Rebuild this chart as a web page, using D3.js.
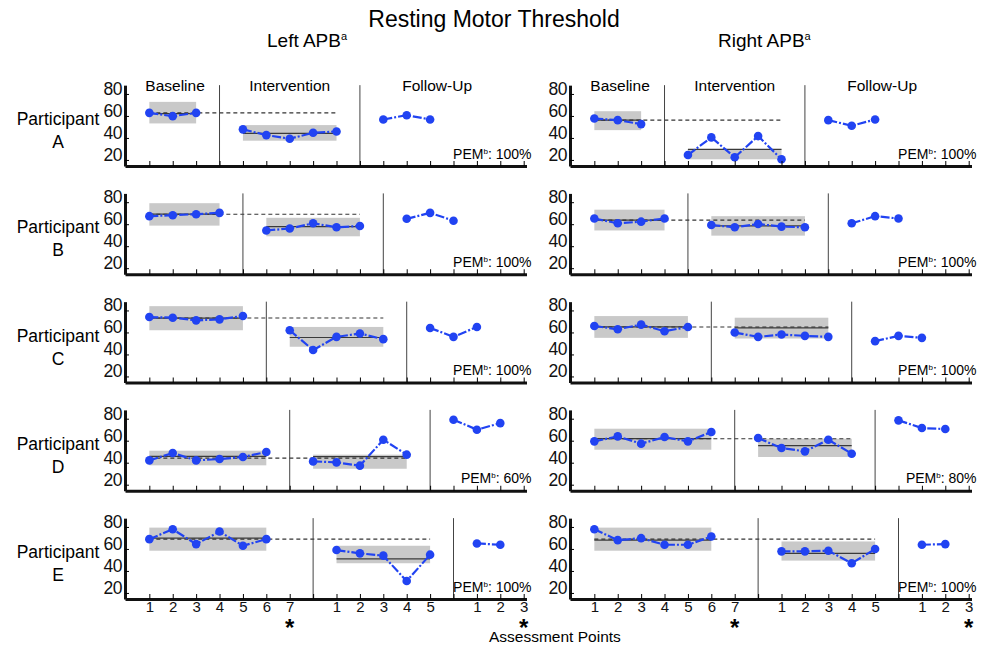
<!DOCTYPE html>
<html>
<head>
<meta charset="utf-8">
<script src="https://cdnjs.cloudflare.com/ajax/libs/d3/7.8.5/d3.min.js"></script>
<style>
  body { margin: 0; background: #fff; }
  svg { display: block; font-family: "Liberation Sans", Arial, sans-serif; }
</style>
</head>
<body>
<script>
const participants = ["A", "B", "C", "D", "E"];
const phaseNames = ["Baseline", "Intervention", "Follow-Up"];
const sides = ["Left APB", "Right APB"];
const yTicks = [20, 40, 60, 80];
// tick labels under the last row, one per assessment slot
const xTickLabels = ["1", "2", "3", "4", "5", "6", "7", "", "1", "2", "3", "4", "5", "", "1", "2", "3"];
const starSlots = [6, 16];
// slot of the first phase change line for each participant
const phaseStart = [3, 4, 5, 6, 7];

// Left APB
const leftBaseline = [
  [62.8, 59.8, 62.8],
  [67.3, 68.2, 69.1, 70.3],
  [74, 73.4, 71, 71.9, 74.9],
  [42.1, 48.8, 42.1, 43.3, 45.2, 49.7],
  [68.9, 77.9, 64.4, 75.8, 62.9, 68.9]
];
const leftIntervention = [
  [47.8, 42.6, 39.3, 44.7, 45.9],
  [54.3, 56.1, 60.8, 57.2, 58.4],
  [62, 44, 56, 59, 53.9],
  [41.2, 40.3, 37.3, 60.9, 47.3],
  [59, 56, 53.9, 30.8, 54.8]
];
const leftFollowUp = [
  [56.8, 60.7, 56.8],
  [64.9, 70.3, 63.2],
  [64.1, 56, 65],
  [79.1, 70, 76],
  [65, 63.8]
];
const leftBaseBand = [[53.2, 72.8], [58.7, 79.1], [62, 83.9], [37.6, 50.9], [58.4, 79.4]];
const leftBaseMean = [62.2, 69.1, 73.1, 45.8, 69.8];
const leftTrend = [62.8, 69.1, 73.1, 44.2, 68.9];
const leftIntBand = [[37.5, 51.7], [49, 65.8], [47, 65], [34.5, 47.3], [47, 62.9]];
const leftIntMean = [44.1, 57.8, 55.4, 45.5, 50.9];
const leftPEM = ["100%", "100%", "100%", "60%", "100%"];

// Right APB
const rightBaseline = [
  [57.7, 56.2, 52.6],
  [65.2, 60.8, 62.3, 65.2],
  [65.9, 62.9, 67.1, 61.1, 65],
  [59.4, 63.9, 57.3, 63.3, 59.4, 67.9],
  [77.9, 68, 69.8, 63.8, 63.8, 71.3]
];
const rightIntervention = [
  [24.5, 40.5, 22.4, 41.7, 20.6],
  [59.3, 57.2, 60.2, 57.8, 57.2],
  [59.9, 56, 58.1, 56.9, 56],
  [62.4, 53.3, 50.3, 60.9, 48.2],
  [57.8, 57.8, 58.4, 47, 59.9]
];
const rightFollowUp = [
  [56.2, 51.1, 56.8],
  [60.8, 67.3, 65.2],
  [52.1, 56.9, 55.1],
  [78.5, 71.5, 70.6],
  [63.8, 64.4]
];
const rightBaseBand = [[47.1, 64.3], [54.3, 73.2], [55.1, 74.9], [51.8, 70.9], [58.4, 79.4]];
const rightBaseMean = [56.2, 63.7, 65, 61.8, 68];
const rightTrend = [56.2, 63.7, 65, 61.8, 68.9];
const rightIntBand = [[20.6, 29.7], [49.6, 67.3], [54.5, 73.4], [45.2, 61.8], [49.4, 66.8]];
const rightIntMean = [29.7, 58.4, 64.1, 55.5, 56];
const rightPEM = ["100%", "100%", "100%", "80%", "100%"];

const data = [
  { base: leftBaseline, int: leftIntervention, fu: leftFollowUp, baseBand: leftBaseBand,
    baseMean: leftBaseMean, trend: leftTrend, intBand: leftIntBand, intMean: leftIntMean, pem: leftPEM },
  { base: rightBaseline, int: rightIntervention, fu: rightFollowUp, baseBand: rightBaseBand,
    baseMean: rightBaseMean, trend: rightTrend, intBand: rightIntBand, intMean: rightIntMean, pem: rightPEM }
];

const w = 989;
const h = 647;
const blue = "#2143f2";
const svg = d3.select("body").append("svg").attr("width", w).attr("height", h);

svg.append("text").attr("x", 494).attr("y", 27).attr("text-anchor", "middle")
  .attr("font-size", 23).text("Resting Motor Threshold");

[267, 718].forEach((hx, i) => {
  const t = svg.append("text").attr("x", hx).attr("y", 47).attr("font-size", 19);
  t.append("tspan").text(sides[i]);
  t.append("tspan").attr("font-size", 11).attr("dy", -7).text("a");
});

function drawPanel(side, r) {
  const axisX = side === 0 ? 125 : 570;
  const endX = axisX + 401.5;
  const axisY = 166 + 108.25 * r;
  const x = d3.scaleLinear().domain([-1.04, 16.12]).range([axisX, endX]);
  const y = d3.scaleLinear().domain([14.5, 88]).range([axisY, axisY - 80.85]);
  const d = data[side];
  const p1 = phaseStart[r];
  const p2 = p1 + 6;
  const nB = d.base[r].length;
  const g = svg.append("g");

  // stability bands
  const bands = [
    { from: 0, to: nB - 1, band: d.baseBand[r], mean: d.baseMean[r] },
    { from: p1 + 1, to: p1 + 5, band: d.intBand[r], mean: d.intMean[r] }
  ];
  bands.forEach((b) => {
    g.append("rect")
      .attr("x", x(b.from)).attr("width", x(b.to) - x(b.from))
      .attr("y", y(b.band[1])).attr("height", y(b.band[0]) - y(b.band[1]))
      .attr("fill", "#c9c9c9");
  });
  bands.forEach((b) => {
    g.append("line")
      .attr("x1", x(b.from)).attr("x2", x(b.to))
      .attr("y1", y(b.mean)).attr("y2", y(b.mean))
      .attr("stroke", "#3a3a3a").attr("stroke-width", 1.2);
  });

  // baseline level carried through intervention
  g.append("line")
    .attr("x1", x(0)).attr("x2", x(p1 + 5))
    .attr("y1", y(d.trend[r])).attr("y2", y(d.trend[r]))
    .attr("stroke", "#333").attr("stroke-width", 1.1).attr("stroke-dasharray", "4,3");

  // phase change lines
  [p1, p2].forEach((s) => {
    g.append("line")
      .attr("x1", x(s)).attr("x2", x(s))
      .attr("y1", y(88)).attr("y2", axisY)
      .attr("stroke", "#444").attr("stroke-width", 1);
  });

  // series
  const phases = [
    { vals: d.base[r], start: 0 },
    { vals: d.int[r], start: p1 + 1 },
    { vals: d.fu[r], start: p2 + 1 }
  ];
  const line = d3.line().x((v) => v.x).y((v) => v.y);
  phases.forEach((ph) => {
    const pts = ph.vals.map((v, i) => ({ x: x(ph.start + i), y: y(v) }));
    g.append("path").attr("d", line(pts)).attr("fill", "none")
      .attr("stroke", blue).attr("stroke-width", 2.2)
      .attr("stroke-dasharray", "9,2,2,2");
    g.selectAll(null).data(pts).enter().append("circle")
      .attr("cx", (p) => p.x).attr("cy", (p) => p.y).attr("r", 4.3)
      .attr("fill", blue);
  });

  // axes
  const xAxis = d3.axisBottom(x).tickValues(d3.range(0, 17))
    .tickSizeInner(-5).tickSizeOuter(0).tickPadding(2.5)
    .tickFormat((v) => (r === 4 ? xTickLabels[v] : ""));
  const gx = g.append("g").attr("transform", `translate(0,${axisY})`).call(xAxis);
  gx.select(".domain").attr("stroke-width", 3).attr("stroke", "#111");
  gx.selectAll("text").attr("font-size", 15).attr("font-family", null).attr("fill", "#111");

  const yAxis = d3.axisLeft(y).tickValues(yTicks).tickSizeInner(-4).tickSizeOuter(0).tickPadding(3);
  const gy = g.append("g").attr("transform", `translate(${axisX},0)`).call(yAxis);
  gy.select(".domain").attr("stroke-width", 3).attr("stroke", "#111");
  gy.selectAll("text").attr("font-size", 17.5).attr("font-family", null)
    .attr("dy", "0.02em").attr("letter-spacing", -0.5).attr("fill", "#111");

  // PEM label
  const pem = g.append("text").attr("x", endX + 5).attr("y", axisY - 7.5)
    .attr("text-anchor", "end").attr("font-size", 14);
  pem.append("tspan").text("PEM");
  pem.append("tspan").attr("font-size", 8).attr("dy", -5).text("b");
  pem.append("tspan").attr("dy", 5).text(": " + d.pem[r]);

  if (r === 0) {
    [1.1, p1 + 3, p2 + 3.3].forEach((s, i) => {
      g.append("text").attr("x", x(s)).attr("y", axisY - 75)
        .attr("text-anchor", "middle").attr("font-size", 15.5).text(phaseNames[i]);
    });
  }
  if (r === 4) {
    starSlots.forEach((s) => {
      g.append("text").attr("x", x(s)).attr("y", axisY + 37)
        .attr("text-anchor", "middle").attr("font-size", 24).attr("font-weight", "bold").text("*");
    });
  }
  if (side === 0) {
    g.append("text").attr("x", 58).attr("y", axisY - 41).attr("text-anchor", "middle")
      .attr("font-size", 17.5).text("Participant");
    g.append("text").attr("x", 58).attr("y", axisY - 18).attr("text-anchor", "middle")
      .attr("font-size", 17.5).text(participants[r]);
  }
}

[0, 1].forEach((side) => participants.forEach((p, r) => drawPanel(side, r)));

svg.append("text").attr("x", 489).attr("y", 642).attr("font-size", 15.5).text("Assessment Points");
</script>
</body>
</html>
